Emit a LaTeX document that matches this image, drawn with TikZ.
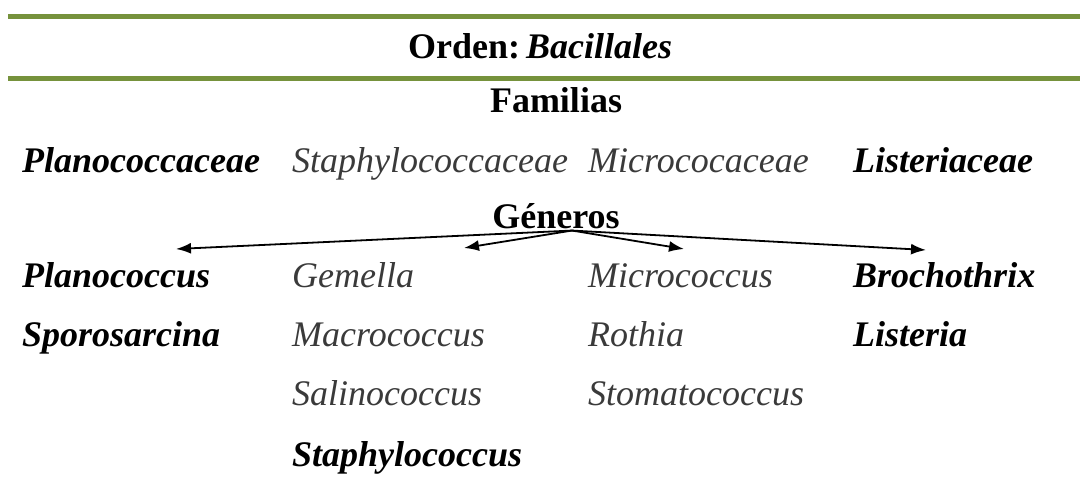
\documentclass[tikz,border=0pt]{standalone}
\usepackage{fontspec}
\setmainfont{Liberation Serif}
\usepackage{xcolor}
\usepackage{tikz}
\usetikzlibrary{calc,arrows.meta,positioning}
\definecolor{ordenGreen}{RGB}{118,146,60}
\definecolor{genGray}{RGB}{58,58,58}
\newcommand\txtsize{\fontsize{36}{42}\selectfont}

\begin{document}
\begin{tikzpicture}[x=1pt,y=-1pt,
  hd/.style={font=\txtsize\bfseries, anchor=base, inner sep=0pt},
  bi/.style={font=\txtsize\bfseries\itshape, anchor=base west, inner sep=0pt},
  it/.style={font=\txtsize\itshape, text=genGray, anchor=base west, inner sep=0pt}]
\useasboundingbox (0,0) rectangle (1080,490);
\foreach \y in {16.5,78.5}
  \draw[ordenGreen, line width=5pt] (8,\y)--(1080,\y);
\node[hd] (orden) at (540,58) {Orden:\,\textit{Bacillales}};
\node[hd] (familias) at (556,112) {Familias};
% familias
\node[bi] (planococcaceae) at (22,172) {Planococcaceae};
\node[it] (staphylococcaceae) at (292,172) {Staphylococcaceae};
\node[it] (micrococaceae) at (588,172) {Micrococaceae};
\node[bi] (listeriaceae) at (853,172) {Listeriaceae};
\node[hd] (generos) at (556,228) {Géneros};
% generos
\node[bi] (planococcus) at (22,287) {Planococcus};
\node[bi] (sporosarcina) at (22,346) {Sporosarcina};
\node[it] (gemella) at (292,287) {Gemella};
\node[it] (macrococcus) at (292,346) {Macrococcus};
\node[it] (salinococcus) at (292,405) {Salinococcus};
\node[bi] (staphylococcus) at (292,466) {Staphylococcus};
\node[it] (micrococcus) at (588,287) {Micrococcus};
\node[it] (rothia) at (588,346) {Rothia};
\node[it] (stomatococcus) at (588,405) {Stomatococcus};
\node[bi] (brochothrix) at (853,287) {Brochothrix};
\node[bi] (listeria) at (853,346) {Listeria};
\coordinate (gsrc) at ([xshift=16pt,yshift=-2pt]generos.south);
\coordinate (t1) at (176,249);
\coordinate (t2) at (464,248);
\coordinate (t3) at (684,249);
\coordinate (t4) at (926,250);
\foreach \t in {t1,t2,t3,t4}
  \draw[line width=1.8pt, -{Latex[length=15pt,width=11pt]}] (gsrc)--(\t);
\end{tikzpicture}
\end{document}
